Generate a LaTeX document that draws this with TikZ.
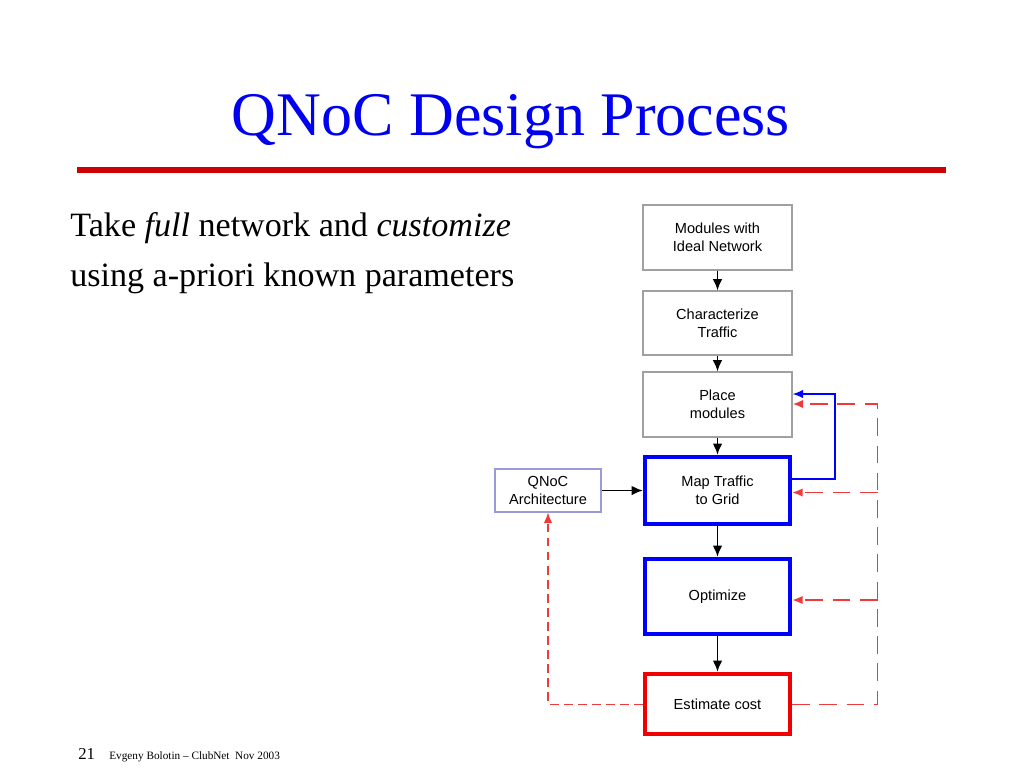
\documentclass[tikz,border=0pt]{standalone}
\usepackage{fontspec}
\setmainfont{Liberation Serif}
\setsansfont{Liberation Sans}
\usetikzlibrary{positioning}
\usetikzlibrary{calc}
\usetikzlibrary{arrows.meta}
\definecolor{myblue}{HTML}{0000F0}
\definecolor{myred}{HTML}{CC0000}
\definecolor{dashred}{HTML}{F03A3A}
\definecolor{boxgray}{HTML}{A0A0A0}
\definecolor{archblue}{HTML}{9A9AD8}
\definecolor{boxred}{HTML}{F00000}

\begin{document}
\begin{tikzpicture}[x=0.02cm, y=-0.02cm,
  box/.style={draw=boxgray, line width=0.6pt, minimum width=2.98cm, minimum height=1.3cm,
    inner sep=0pt, align=center, font=\sffamily\fontsize{8.3}{10.2}\selectfont},
  bluebox/.style={box, draw=blue, line width=2.1pt, minimum width=2.91cm},
  redbox/.style={box, draw=boxred, line width=2.1pt, minimum width=2.91cm},
  flow/.style={-{Latex[length=6.5pt,width=5.5pt]}, line width=1pt},
  blueback/.style={-{Latex[length=6pt,width=4.8pt]}, blue, line width=0.9pt},
  dashback/.style={-{Latex[length=6pt,width=4.8pt]}, dashred, line width=1.1pt, dash pattern=on 10pt off 5.5pt},
  dashshort/.style={-{Latex[length=6pt,width=4.8pt]}, dashred, line width=0.7pt, dash pattern=on 5pt off 3pt}]

  \useasboundingbox (0,0) rectangle (1024,768);

  % title and rule
  \node[anchor=base, text=myblue, font=\fontsize{35.3}{40}\selectfont] (title) at (511,135) {QNoC Design Process};
  \fill[myred] (77,167) rectangle (946,173);

  \node[anchor=base west, inner sep=0pt, font=\fontsize{19.4}{22}\selectfont] (line1) at (70,236) {Take \textit{full} network and \textit{customize}};
  \node[anchor=base west, inner sep=0pt, font=\fontsize{19.4}{22}\selectfont] (line2) at (70,286) {using a-priori known parameters};

  % flow boxes
  \node[box] (M) at (717.5,237.5) {Modules with\\Ideal Network};
  \node[box, minimum height=1.28cm] (C) at (717.5,323) {Characterize\\Traffic};
  \node[box] (P) at (717.5,404.5) {Place\\modules};
  \node[bluebox, minimum height=1.35cm] (G) at (717.5,490.5) {Map Traffic\\to Grid};
  \node[bluebox, minimum height=1.51cm] (O) at (717.5,596.5) {Optimize};
  \node[redbox, minimum height=1.21cm] (E) at (717.5,704) {Estimate cost};
  \node[box, draw=archblue, minimum width=2.12cm, minimum height=0.86cm] (A) at (548,490.5) {QNoC\\Architecture};

  \draw[flow] (M) -- (C);
  \draw[flow] (C) -- (P);
  \draw[flow] (P) -- (G);
  \draw[flow] (G) -- (O);
  \draw[flow] (O) -- (E);
  \draw[flow] (A) -- (G);

  % feedback loops
  \coordinate (b1) at (835,479);
  \coordinate (b2) at (835,394);
  \draw[blueback] (G.east |- b1) -- (b1) -- (b2) -- (P.east |- b2);

  \coordinate (r1) at (877.5,404);
  \coordinate (r2) at (877.5,492.5);
  \coordinate (r3) at (877.5,600);
  \coordinate (r4) at (877.5,704.5);
  \draw[dashback] (E.east |- r4) -- (r4) -- (r1) -- (P.east |- r1);
  \draw[dashback] (r2) -- (G.east |- r2);
  \draw[dashback] (r3) -- (O.east |- r3);

  \coordinate (l1) at (548,704.5);
  \draw[dashshort] (E.west |- l1) -- (l1) -- (A.south);

  % footer
  \node[anchor=base west, inner sep=0pt, font=\fontsize{9.5}{11}\selectfont] (num) at (78,759) {21};
  \node[anchor=base west, inner sep=0pt, font=\fontsize{6.4}{8}\selectfont] (foot) at (109,759) {Evgeny Bolotin -- ClubNet\ \ Nov 2003};
\end{tikzpicture}
\end{document}
